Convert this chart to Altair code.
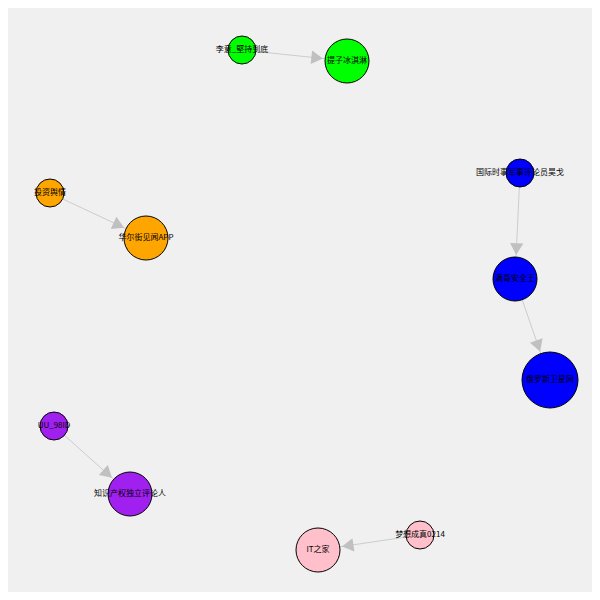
import math
import pandas as pd
import altair as alt

names = ["李意_堅持到底", "提子冰淇淋", "国际时事军事评论员昊戈", "满哥安全王", "俄罗斯卫星网",
         "投资舆情", "华尔街见闻APP", "UU_98ID", "知识产权独立评论人", "IT之家", "梦想成真0214"]
xs = [242, 347, 520, 515, 550, 50, 146, 54, 130, 318, 420]
ys = [50, 61, 173, 279, 380, 193, 238, 426, 494, 550, 535]
radius = [14, 22, 14, 22, 28, 14, 22, 14, 22, 22, 14]
colors = ["#00ff00", "#00ff00", "#0000ff", "#0000ff", "#0000ff", "#ffa500", "#ffa500",
          "#a020f0", "#a020f0", "#ffc0cb", "#ffc0cb"]
sources = [0, 2, 3, 5, 7, 10]
targets = [1, 3, 4, 6, 8, 9]

nodes = pd.DataFrame({"name": names, "x": xs, "y": ys,
                      "size": [(2 * r) ** 2 for r in radius], "color": colors})

erows = []
arows = []
for s, t in zip(sources, targets):
    dx, dy = xs[t] - xs[s], ys[t] - ys[s]
    d = math.hypot(dx, dy)
    ux, uy = dx / d, dy / d
    erows.append({"x": xs[s], "y": ys[s], "x2": xs[t] - ux * radius[t], "y2": ys[t] - uy * radius[t]})
    off = radius[t] + 8
    ang = math.degrees(math.atan2(dx, -dy)) % 360
    arows.append({"x": xs[t] - ux * off, "y": ys[t] - uy * off, "angle": ang})
edges = pd.DataFrame(erows)
arrows = pd.DataFrame(arows)

X = alt.Scale(domain=[8, 592])
Y = alt.Scale(domain=[8, 592], reverse=True)

lines = alt.Chart(edges).mark_rule(color="#cccccc", strokeWidth=1).encode(
    x=alt.X("x:Q", scale=X, axis=None), y=alt.Y("y:Q", scale=Y, axis=None), x2="x2", y2="y2")
heads = alt.Chart(arrows).mark_point(shape="triangle-up", filled=True, color="#c0c0c0",
                                      size=180, opacity=1).encode(
    x=alt.X("x:Q", scale=X, axis=None), y=alt.Y("y:Q", scale=Y, axis=None),
    angle=alt.Angle("angle:Q", scale=None))
circles = alt.Chart(nodes).mark_circle(opacity=1, stroke="black", strokeWidth=1).encode(
    x=alt.X("x:Q", scale=X, axis=None), y=alt.Y("y:Q", scale=Y, axis=None),
    size=alt.Size("size:Q", scale=None), color=alt.Color("color:N", scale=None))
labels = alt.Chart(nodes).mark_text(fontSize=8, font="Noto Sans CJK SC", color="black").encode(
    x=alt.X("x:Q", scale=X, axis=None), y=alt.Y("y:Q", scale=Y, axis=None), text="name")

chart = (lines + heads + circles + labels).properties(
    width=584, height=584, background="#f0f0f0", padding=0, autosize="none"
).configure_view(stroke=None)
chart.save("out.html", embed_options={"renderer": "svg", "actions": False})
